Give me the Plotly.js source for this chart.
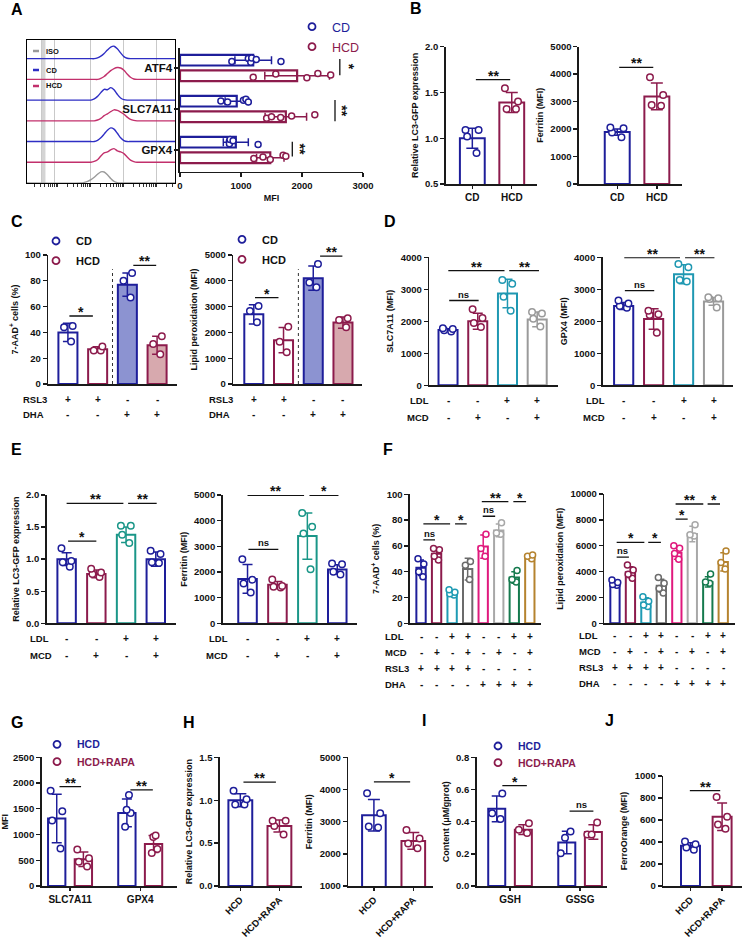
<!DOCTYPE html>
<html><head><meta charset="utf-8">
<script src="https://cdn.plot.ly/plotly-3.0.1.min.js"></script>
<style>html,body{margin:0;padding:0;background:#fff}#chart{width:745px;height:940px}</style>
</head><body><div id="chart"></div>
<script>
// ================= DATA =================
// Panel A – flow cytometry histograms (x = log10 fluorescence, heights relative to row)
const histX       = [1.06,2.7,2.8,2.9,3.0,3.1,3.2,3.3,3.4,3.5,3.6,3.7,3.8,3.9,4.0,4.1,4.2,4.3,4.4,4.5,5.55];
const histISO     = [0,0,0.03,0.08,0.16,0.28,0.42,0.54,0.53,0.40,0.22,0.08,0.02,0,0,0,0,0,0,0,0];
const histGPX4HCD = [0,0,0,0,0,0.04,0.12,0.30,0.45,0.50,0.60,0.66,0.55,0.50,0.42,0.25,0.10,0.03,0,0,0];
const histGPX4CD  = [0,0,0,0,0,0,0.06,0.18,0.36,0.55,0.66,0.60,0.40,0.18,0.05,0,0,0,0,0,0];
const histSLCHCD  = [0,0,0,0,0,0,0.04,0.12,0.25,0.34,0.44,0.53,0.50,0.42,0.32,0.18,0.07,0.02,0,0,0];
const histSLCCD   = [0,0,0,0,0,0.06,0.18,0.36,0.52,0.50,0.60,0.50,0.28,0.10,0.02,0,0,0,0,0,0];
const histATF4HCD = [0,0,0,0,0,0,0,0.05,0.14,0.28,0.42,0.52,0.57,0.55,0.44,0.26,0.10,0.02,0,0,0];
const histATF4CD  = [0,0,0,0,0,0,0.04,0.12,0.25,0.42,0.56,0.60,0.48,0.28,0.10,0.02,0,0,0,0,0,0];
const histLabels  = ['ISO','CD','HCD'];

// Panel A – MFI bars
const aGenes   = ['ATF4','SLC7A11','GPX4'];
const aCDMean  = [1200, 930, 915];
const aCDSD    = [300, 190, 205];
const aCDPts   = [[850,1120,1160,1175,1250,1655],[670,780,1040,1080,1120],[810,820,810,870,1280]];
const aHCDMean = [1920, 1735, 1480];
const aHCDSD   = [530, 340, 225];
const aHCDPts  = [[1200,1570,2080,2260,2470],[1420,1500,1650,1830,2210],[1210,1360,1480,1690,1735]];

// Panel B
const bGroups  = ['CD','HCD'];
const bLC3Mean = [1.0, 1.39];
const bLC3SD   = [0.11, 0.11];
const bLC3Pts  = [[1.09,1.09,1.02,0.84],[1.545,1.40,1.32,1.32]];
const bFerMean = [1890, 3190];
const bFerSD   = [115, 490];
const bFerPts  = [[2060,2030,1700,1880],[3890,3240,2850,2880]];

// Panel C
const cGroups  = ['CD RSL3','HCD RSL3','CD DHA','HCD DHA'];
const cRSL3    = ['+','+','-','-'];
const cDHA     = ['-','-','+','+'];
const c7Mean   = [40, 27, 77, 30];
const c7SD     = [7, 1.8, 9, 7];
const c7Pts    = [[45,44,33],[29,26,26],[86,80,67],[37,31,23]];
const cLipMean = [2700, 1700, 4100, 2380];
const cLipSD   = [370, 490, 470, 220];
const cLipPts  = [[3020,2830,2390],[2220,1640,1230],[4650,3750,3930],[2550,2480,2200]];

// Panel D
const dGroups  = ['Ctrl','MCD','LDL','LDL+MCD'];
const dLDL     = ['-','-','+','+'];
const dMCD     = ['-','+','-','+'];
const dSLCMean = [1730, 2000, 2870, 2060];
const dSLCSD   = [40, 250, 445, 230];
const dSLCPts  = [[1680,1720,1760,1780],[2100,2380,1820,1950],[3290,3170,2770,2330],[2240,2290,2080,1840]];
const dGPXMean = [2480, 2070, 3470, 2620];
const dGPXSD   = [110, 320, 300, 120];
const dGPXPts  = [[2650,2560,2480,2420],[2330,2220,2200,1640],[3790,3690,3240,3290],[2750,2720,2700,2430]];

// Panel E
const eGroups  = ['Ctrl','MCD','LDL','LDL+MCD'];
const eLDL     = ['-','-','+','+'];
const eMCD     = ['-','+','-','+'];
const eLC3Mean = [1.0, 0.77, 1.38, 1.0];
const eLC3SD   = [0.10, 0.06, 0.12, 0.11];
const eLC3Pts  = [[1.17,0.97,0.95,0.88],[0.85,0.79,0.77,0.72],[1.52,1.52,1.38,1.25],[1.13,1.08,0.95,0.94]];
const eFerMean = [1730, 1500, 3400, 2100];
const eFerSD   = [560, 130, 900, 180];
const eFerPts  = [[2500,1700,1550,1200],[1710,1450,1420,1400],[4300,3760,3500,2110],[2330,2300,2010,1900]];

// Panel F
const fGroups  = ['1','2','3','4','5','6','7','8'];
const fLDL     = ['-','-','+','+','-','-','+','+'];
const fMCD     = ['-','+','-','+','-','+','-','+'];
const fRSL3    = ['+','+','+','+','-','-','-','-'];
const fDHA     = ['-','-','-','-','+','+','+','+'];
const f7Mean   = [43, 54, 23.8, 42, 59.5, 72, 35.5, 51.5];
const f7SD     = [6, 4, 1.5, 8.5, 9, 5, 4.5, 1.5];
const f7Pts    = [[50,46,40,36],[58,57,52,49],[26,24,23,22],[48,45,34],[69,58,52],[78,70,69],[41,34,32],[53,52,50]];
const fLipMean = [3050, 3950, 1600, 2900, 5450, 6900, 3200, 4750];
const fLipSD   = [220, 430, 380, 500, 500, 600, 400, 700];
const fLipPts  = [[3350,3150,3000,2950],[4500,4130,3800,3480],[2050,1700,1420,1300],[3550,3100,2700,2350],[5990,5810,5400,4960],[7620,6850,6750],[3820,3200,3100],[5600,4700,4190]];

// Panel G
const gGenes    = ['SLC7A11','GPX4'];
const gHCDMean  = [1310, 1420];
const gHCDSD    = [470, 270];
const gHCDPts   = [[1850,1450,1270,730],[1770,1480,1420,1150]];
const gRAPAMean = [520, 815];
const gRAPASD   = [140, 165];
const gRAPAPts  = [[710,540,470,380],[980,950,720,640]];

// Panel H
const hGroups  = ['HCD','HCD+RAPA'];
const hLC3Mean = [1.0, 0.70];
const hLC3SD   = [0.075, 0.07];
const hLC3Pts  = [[1.11,1.01,0.95,0.95],[0.76,0.76,0.70,0.60]];
const hFerMean = [3200, 2400];
const hFerSD   = [490, 260];
const hFerPts  = [[3880,3260,2820,2850],[2740,2480,2320,2170]];

// Panel I
const iTypes    = ['GSH','GSSG'];
const iHCDMean  = [0.48, 0.27];
const iHCDSD    = [0.08, 0.07];
const iHCDPts   = [[0.575,0.452,0.417],[0.338,0.30,0.203]];
const iRAPAMean = [0.35, 0.335];
const iRAPASD   = [0.03, 0.045];
const iRAPAPts  = [[0.39,0.35,0.33],[0.394,0.32,0.32]];

// Panel J
const jGroups = ['HCD','HCD+RAPA'];
const jMean   = [365, 630];
const jSD     = [28, 125];
const jPts    = [[405,380,350,330],[810,630,560,520]];

// ================= STYLE / HELPERS =================
const W = 745, H = 940;
const NAVY = '#1E1E9A', MAROON = '#8C1B4C', AX = '#1a1a1a', NOFILL = 'rgba(0,0,0,0)';
const TEAL = '#1F98B2', GRAYD = '#9A9A9A', GREENE = '#1A9688';
const FCOL = [NAVY, MAROON, '#1E9BB4', '#6B6B6B', '#E0197D', '#A8A8A8', '#157A4E', '#B5832F'];
const FONT = '"Liberation Sans", Arial, Helvetica, sans-serif';
const f = (size, weight, color) => ({family: FONT, size: size, weight: weight || 'bold', color: color || '#111'});
const px = v => v / W, py = v => 1 - v / H;
const xn = n => n === 1 ? 'x' : 'x' + n, yn = n => n === 1 ? 'y' : 'y' + n;
const xk = n => n === 1 ? 'xaxis' : 'xaxis' + n, yk = n => n === 1 ? 'yaxis' : 'yaxis' + n;

const traces = [], shapes = [], annotations = [];
const layout = {
  width: W, height: H, margin: {l: 0, r: 0, t: 0, b: 0},
  paper_bgcolor: '#fff', plot_bgcolor: NOFILL, hovermode: false,
  barmode: 'group', bargap: 0.24, bargroupgap: 0.325,
  boxmode: 'group', boxgap: 0.24, boxgroupgap: 0.325,
  font: f(9)
};

function axes(n, xl, xr, yt, yb, xrange, yrange, ycfg, xcfg) {
  layout[xk(n)] = Object.assign({domain: [px(xl), px(xr)], range: xrange, anchor: yn(n), type: 'category',
    showline: true, linecolor: AX, linewidth: 1.6, ticks: '', showticklabels: false, showgrid: false,
    zeroline: false, fixedrange: true, tickfont: f(9.5), ticklen: 3, tickwidth: 1.4, tickcolor: AX}, xcfg || {});
  layout[yk(n)] = Object.assign({domain: [py(yb), py(yt)], range: yrange, anchor: xn(n),
    showline: true, linecolor: AX, linewidth: 1.6, ticks: 'outside', ticklen: 4, tickwidth: 1.4, tickcolor: AX,
    showgrid: false, zeroline: false, fixedrange: true, tickfont: f(9.5), tickformat: 'd'}, ycfg || {});
}
const ytitle = (t, s) => ({text: t, font: f(9), standoff: s == null ? 5 : s});

function addSimple(n, cats, means, sds, pts, colors, fills, o) {
  o = o || {};
  const xa = xn(n), ya = yn(n);
  cats.forEach((c, i) => traces.push({type: 'bar', x: [c], y: [means[i]], xaxis: xa, yaxis: ya,
    width: o.width || 0.62, offsetgroup: 's' + n, alignmentgroup: 's' + n,
    marker: {color: fills ? fills[i] : NOFILL, line: {color: colors[i], width: o.lw || 2}},
    error_y: {type: 'data', array: [sds[i]], visible: true, color: colors[i], thickness: 1.5, width: o.cap || 4},
    showlegend: false}));
  cats.forEach((c, i) => traces.push({type: 'box', x: pts[i].map(() => c), y: pts[i], xaxis: xa, yaxis: ya,
    boxpoints: 'all', jitter: o.jitter == null ? 0.8 : o.jitter, pointpos: 0,
    offsetgroup: 's' + n, alignmentgroup: 's' + n, fillcolor: NOFILL, line: {width: 0, color: NOFILL},
    marker: {symbol: 'circle', size: o.ms || 6.5, color: '#fff', line: {color: colors[i], width: 1.5}},
    showlegend: false}));
}

function addGrouped(n, cats, series, o) {
  const xa = xn(n), ya = yn(n), hor = o.orientation === 'h';
  series.forEach((s, k) => {
    const bar = {type: 'bar', xaxis: xa, yaxis: ya, width: o.width, offsetgroup: 'g' + n + '_' + k, alignmentgroup: 'g' + n,
      marker: {color: NOFILL, line: {color: s.color, width: o.lw || 2}}, showlegend: false};
    const err = {type: 'data', array: s.sd, visible: true, color: s.color, thickness: 1.5, width: o.cap || 4};
    if (hor) { bar.orientation = 'h'; bar.y = cats; bar.x = s.mean; bar.error_x = err; }
    else { bar.x = cats; bar.y = s.mean; bar.error_y = err; }
    traces.push(bar);
  });
  series.forEach((s, k) => {
    const rep = [], vals = [];
    s.pts.forEach((arr, i) => arr.forEach(v => { rep.push(cats[i]); vals.push(v); }));
    const box = {type: 'box', xaxis: xa, yaxis: ya, boxpoints: 'all', jitter: o.jitter, pointpos: 0,
      offsetgroup: 'g' + n + '_' + k, alignmentgroup: 'g' + n, fillcolor: NOFILL, line: {width: 0, color: NOFILL},
      marker: {symbol: 'circle', size: o.ms || 6.5, color: '#fff', line: {color: s.color, width: 1.5}}, showlegend: false};
    if (hor) { box.orientation = 'h'; box.y = rep; box.x = vals; } else { box.x = rep; box.y = vals; }
    traces.push(box);
  });
}

function sig(n, x0, x1, y, label) {
  shapes.push({type: 'line', xref: xn(n), yref: yn(n), x0: x0, x1: x1, y0: y, y1: y, line: {color: '#111', width: 1.3}});
  const ns = label === 'ns';
  annotations.push({xref: xn(n), yref: yn(n), x: (x0 + x1) / 2, y: y, text: label, showarrow: false,
    xanchor: 'center', yanchor: 'bottom', yshift: ns ? -1 : -6, font: ns ? f(9.5) : f(14)});
}
// vertical significance bracket for the horizontal bar chart (category index + offset)
function vsig(n, x, cat, d0, d1, label, tx) {
  shapes.push({type: 'line', xref: xn(n), yref: yn(n), x0: x, x1: x, y0: cat + d0, y1: cat + d1, line: {color: '#111', width: 1.3}});
  annotations.push({xref: xn(n), yref: yn(n), x: tx, y: cat + (d0 + d1) / 2, text: label, showarrow: false, textangle: 90, font: f(14)});
}
function rows(n, names, signs, ys, labelX, align) {
  names.forEach((nm, r) => {
    annotations.push({xref: 'paper', yref: 'paper', x: px(labelX), y: py(ys[r]), xanchor: align, yanchor: 'middle',
      text: nm, showarrow: false, font: f(9.5)});
    signs[r].forEach((s, i) => annotations.push({xref: xn(n), yref: 'paper', x: i, y: py(ys[r]), xanchor: 'center',
      yanchor: 'middle', text: s, showarrow: false, font: f(10)}));
  });
}
let legCount = 0;
function legendItem(n, name, color, xPx, yPx, font) {
  legCount++;
  const id = legCount === 1 ? 'legend' : 'legend' + legCount;
  layout[id] = {x: px(xPx), y: py(yPx), xanchor: 'left', yanchor: 'middle', bgcolor: NOFILL, borderwidth: 0,
    font: font, itemwidth: 30};
  traces.push({type: 'scatter', x: [null], y: [null], xaxis: xn(n), yaxis: yn(n), mode: 'markers', name: name,
    marker: {symbol: 'circle-open', size: 7, color: color, line: {width: 1.8, color: color}}, legend: id, showlegend: true});
}
const colored = (t, c) => '<span style="color:' + c + '">' + t + '</span>';

// ================= PANEL A =================
// histogram frame
const histGrid = [1.5, 1.9, 3, 4, 5];
const logTicks = [];
for (let d = 1; d <= 5; d++) for (let k = 1; k <= 9; k++) { const v = d + Math.log10(k); if (v > 1.06 && v < 5.55) logTicks.push(v); }
layout.xaxis = {domain: [px(27), px(175)], range: [1.06, 5.55], anchor: 'y', showline: true, mirror: true,
  linecolor: '#000', linewidth: 1, ticks: 'outside', ticklen: 3, tickwidth: 0.8, tickcolor: '#000',
  tickmode: 'array', tickvals: logTicks, showticklabels: false, showgrid: false, zeroline: false, fixedrange: true,
  minor: {tickmode: 'array', tickvals: histGrid, showgrid: true, gridcolor: '#c9c9c9', gridwidth: 1, ticks: ''}};
layout.yaxis = {domain: [py(183), py(40)], range: [0, 6.9], anchor: 'x', showline: true, mirror: true,
  linecolor: '#000', linewidth: 1, ticks: '', showticklabels: false, showgrid: false, zeroline: false, fixedrange: true};
shapes.push({type: 'rect', xref: 'x', yref: 'paper', x0: 1.49, x1: 1.62, y0: py(183), y1: py(40), fillcolor: '#d4d4d4', line: {width: 0}, layer: 'below'});
const HBLUE = '#2E2EC4', HPINK = '#C2306C', HGRAY = '#9a9a9a';
const histRows = [histISO, histGPX4HCD, histGPX4CD, histSLCHCD, histSLCCD, histATF4HCD, histATF4CD];
const histCols = [HGRAY, HPINK, HBLUE, HPINK, HBLUE, HPINK, HBLUE];
histRows.forEach((h, k) => traces.push({type: 'scatter', mode: 'lines', x: histX, y: h.map(v => v + k),
  xaxis: 'x', yaxis: 'y', line: {color: histCols[k], width: 1.4, shape: 'spline', smoothing: 0.7}, showlegend: false}));
[[HGRAY, 51], [HBLUE, 70], [HPINK, 86]].forEach((c, i) => {
  shapes.push({type: 'line', xref: 'paper', yref: 'paper', x0: px(33), x1: px(39), y0: py(c[1]), y1: py(c[1]), line: {color: c[0], width: 2.5}});
  annotations.push({xref: 'paper', yref: 'paper', x: px(44), y: py(c[1]), xanchor: 'left', yanchor: 'middle', text: histLabels[i], showarrow: false, font: f(7.5)});
});

// bars
layout.xaxis2 = {domain: [px(180), px(363)], range: [0, 3000], anchor: 'y2', dtick: 1000, tickformat: 'd',
  showline: true, linecolor: AX, linewidth: 1.6, ticks: 'outside', ticklen: 4, tickwidth: 1.4, tickcolor: AX,
  showgrid: false, zeroline: false, fixedrange: true, tickfont: f(9.5), title: {text: 'MFI', font: f(9), standoff: 5}};
layout.yaxis2 = {domain: [py(171.7), py(48.3)], type: 'category', range: [2.53, -0.48], anchor: 'x2',
  showline: true, linecolor: AX, linewidth: 1.6, ticks: 'outside', ticklen: 4, tickwidth: 1.4, tickcolor: AX,
  showgrid: false, zeroline: false, fixedrange: true, tickfont: f(11.5)};
addGrouped(2, aGenes, [
  {mean: aCDMean, sd: aCDSD, pts: aCDPts, color: NAVY},
  {mean: aHCDMean, sd: aHCDSD, pts: aHCDPts, color: MAROON}], {orientation: 'h', width: 0.26, jitter: 0.5, ms: 6, lw: 2.2});
vsig(2, 2620, 0, -0.22, 0.18, '*', 2760);
vsig(2, 2541, 1, -0.22, 0.3, '**', 2660);
vsig(2, 1841, 2, -0.2, 0.16, '**', 1960);
legendItem(2, colored('CD', NAVY), NAVY, 292, 27, f(12.5, 'normal'));
legendItem(2, colored('HCD', MAROON), MAROON, 292, 47, f(12.5, 'normal'));

// ================= PANEL B =================
axes(3, 445.7, 537, 46.7, 184, [-0.675, 1.64], [0.5, 2.0], {dtick: 0.5, tickformat: '.1f', title: ytitle('Relative LC3-GFP expression')},
  {showticklabels: true, ticks: 'outside', tickfont: f(10)});
addSimple(3, bGroups, bLC3Mean, bLC3SD, bLC3Pts, [NAVY, MAROON], null, {width: 0.63, cap: 6});
sig(3, 0.09, 0.96, 1.64, '**');
axes(4, 579, 682, 46.7, 184, [-0.965, 1.635], [0, 5000], {dtick: 1000, title: ytitle('Ferritin (MFI)')},
  {showticklabels: true, ticks: 'outside', tickfont: f(10)});
addSimple(4, bGroups, bFerMean, bFerSD, bFerPts, [NAVY, MAROON], null, {width: 0.63, cap: 6});
sig(4, 0.05, 0.91, 4250, '**');

// ================= PANEL C =================
axes(5, 48.3, 177, 255, 384, [-0.66, 3.67], [0, 100], {dtick: 20, title: ytitle('7-AAD<sup>+</sup> cells (%)')});
addSimple(5, cGroups, c7Mean, c7SD, c7Pts, [NAVY, MAROON, NAVY, MAROON], [NOFILL, NOFILL, '#8C93D1', '#D7A9AE'], {width: 0.64, cap: 5});
sig(5, 0.05, 0.84, 52.7, '*'); sig(5, 2.2, 2.97, 92, '**');
shapes.push({type: 'line', xref: 'x5', yref: 'y5', x0: 1.5, x1: 1.5, y0: 0, y1: 89, line: {color: '#333', width: 1, dash: 'dot'}});
rows(5, ['RSL3', 'DHA'], [cRSL3, cDHA], [399.3, 414.3], 20.7, 'left');
legendItem(5, 'CD', NAVY, 36, 241, f(11));
legendItem(5, 'HCD', MAROON, 36, 260.7, f(11));

axes(6, 233.3, 361.7, 255, 384, [-0.69, 3.63], [0, 5000], {dtick: 1000, title: ytitle('Lipid peroxidation (MFI)')});
addSimple(6, cGroups, cLipMean, cLipSD, cLipPts, [NAVY, MAROON, NAVY, MAROON], [NOFILL, NOFILL, '#8C93D1', '#D7A9AE'], {width: 0.64, cap: 5});
sig(6, 0.04, 0.83, 3345, '*'); sig(6, 2.23, 2.98, 4960, '**');
shapes.push({type: 'line', xref: 'x6', yref: 'y6', x0: 1.5, x1: 1.5, y0: 0, y1: 4450, line: {color: '#333', width: 1, dash: 'dot'}});
rows(6, ['RSL3', 'DHA'], [cRSL3, cDHA], [399.3, 414.3], 206.7, 'left');
legendItem(6, 'CD', NAVY, 222, 239.3, f(11));
legendItem(6, 'HCD', MAROON, 222, 259.3, f(11));

// ================= PANEL D =================
const dCols = [NAVY, MAROON, TEAL, GRAYD];
axes(7, 429.3, 558.3, 257.3, 385.3, [-0.63, 3.71], [0, 4000], {dtick: 1000, title: ytitle('SLC7A11 (MFI)')});
addSimple(7, dGroups, dSLCMean, dSLCSD, dSLCPts, dCols, null, {width: 0.64, cap: 5});
sig(7, 0.04, 1.03, 2650, 'ns'); sig(7, 0.01, 1.9, 3582, '**'); sig(7, 2.06, 3.06, 3582, '**');
rows(7, ['LDL', 'MCD'], [dLDL, dMCD], [400.7, 417.7], 431, 'right');
axes(8, 602.7, 733, 257.3, 385.3, [-0.7, 3.65], [0, 4000], {dtick: 1000, title: ytitle('GPX4 (MFI)')});
addSimple(8, dGroups, dGPXMean, dGPXSD, dGPXPts, dCols, null, {width: 0.64, cap: 5});
sig(8, 0.04, 1.02, 2960, 'ns'); sig(8, 0.02, 1.88, 3990, '**'); sig(8, 2.05, 3.03, 3990, '**');
rows(8, ['LDL', 'MCD'], [dLDL, dMCD], [400.7, 417.7], 607, 'right');

// ================= PANEL E =================
const eCols = [NAVY, MAROON, GREENE, NAVY];
axes(9, 46.7, 176, 495, 623.3, [-0.67, 3.68], [0, 2], {dtick: 0.5, tickformat: '.1f', title: ytitle('Relative LC3-GFP expression')});
addSimple(9, eGroups, eLC3Mean, eLC3SD, eLC3Pts, eCols, null, {width: 0.62, cap: 5});
sig(9, 0.05, 1.0, 1.28, '*'); sig(9, 0.0, 1.91, 1.87, '**'); sig(9, 2.07, 3.03, 1.87, '**');
rows(9, ['LDL', 'MCD'], [eLDL, eMCD], [638.3, 655], 28.3, 'left');
axes(10, 222.7, 357.3, 495, 623.3, [-0.83, 3.67], [0, 5000], {dtick: 1000, title: ytitle('Ferritin (MFI)')});
addSimple(10, eGroups, eFerMean, eFerSD, eFerPts, eCols, null, {width: 0.62, cap: 5});
sig(10, 0.03, 1.03, 2879, 'ns'); sig(10, 0.0, 1.89, 4990, '**'); sig(10, 2.07, 3.04, 4990, '*');
rows(10, ['LDL', 'MCD'], [eLDL, eMCD], [638.3, 655], 230, 'right');

// ================= PANEL F =================
axes(11, 410, 540.7, 494.3, 623.3, [-0.71, 7.7], [0, 100], {dtick: 20, title: ytitle('7-AAD<sup>+</sup> cells (%)')});
addSimple(11, fGroups, f7Mean, f7SD, f7Pts, FCOL, null, {width: 0.6, cap: 3, ms: 6, jitter: 0.9});
sig(11, 0.15, 0.9, 64.6, 'ns'); sig(11, 0.15, 1.87, 77, '*'); sig(11, 2.19, 2.94, 77, '*');
sig(11, 3.97, 4.77, 83, 'ns'); sig(11, 3.91, 5.62, 94.3, '**'); sig(11, 5.94, 6.76, 94.3, '*');
rows(11, ['LDL', 'MCD', 'RSL3', 'DHA'], [fLDL, fMCD, fRSL3, fDHA], [636.3, 652.7, 668.3, 684], 383.3, 'left');
axes(12, 604.3, 735, 494, 623.3, [-0.69, 7.76], [0, 10000], {dtick: 2000, title: ytitle('Lipid peroxidation (MFI)')});
addSimple(12, fGroups, fLipMean, fLipSD, fLipPts, FCOL, null, {width: 0.6, cap: 3, ms: 6, jitter: 0.9});
sig(12, 0.11, 0.9, 5116, 'ns'); sig(12, 0.11, 1.9, 6253, '*'); sig(12, 2.15, 2.97, 6253, '*');
sig(12, 3.92, 4.7, 8062, '*'); sig(12, 3.92, 5.71, 9225, '**'); sig(12, 5.99, 6.79, 9225, '*');
rows(12, ['LDL', 'MCD', 'RSL3', 'DHA'], [fLDL, fMCD, fRSL3, fDHA], [635.3, 651.7, 667.3, 683], 576.7, 'left');

// ================= PANEL G =================
axes(13, 41.7, 176.7, 757.3, 886, [-0.404, 1.52], [0, 2500], {dtick: 500, title: ytitle('MFI')},
  {showticklabels: true, ticks: 'outside', tickfont: f(10)});
addGrouped(13, gGenes, [
  {mean: gHCDMean, sd: gHCDSD, pts: gHCDPts, color: NAVY},
  {mean: gRAPAMean, sd: gRAPASD, pts: gRAPAPts, color: MAROON}], {width: 0.247, jitter: 0.8, cap: 5});
sig(13, -0.15, 0.157, 1932, '**'); sig(13, 0.86, 1.18, 1868, '**');
legendItem(13, colored('HCD', NAVY), NAVY, 37, 744.3, f(10.5));
legendItem(13, colored('HCD+RAPA', MAROON), MAROON, 37, 761.7, f(10.5));

// ================= PANEL H =================
axes(14, 220, 301.7, 757.3, 886, [-0.52, 1.57], [0, 1.5], {dtick: 0.5, tickformat: '.1f', title: ytitle('Relative LC3-GFP expression')},
  {showticklabels: true, ticks: 'outside', tickangle: -45, tickfont: f(9.5)});
addSimple(14, hGroups, hLC3Mean, hLC3SD, hLC3Pts, [NAVY, MAROON], null, {width: 0.61, cap: 6});
sig(14, 0.08, 0.91, 1.21, '**');
axes(15, 348.3, 433, 757.3, 886, [-0.65, 1.5], [1000, 5000], {dtick: 1000, title: ytitle('Ferritin (MFI)')},
  {showticklabels: true, ticks: 'outside', tickangle: -45, tickfont: f(9.5)});
addSimple(15, hGroups, hFerMean, hFerSD, hFerPts, [NAVY, MAROON], null, {width: 0.6, cap: 6});
sig(15, 0.0, 0.92, 4234, '*');

// ================= PANEL I =================
axes(16, 476.7, 606.7, 757.3, 886, [-0.476, 1.38], [0, 0.8], {dtick: 0.2, tickformat: '.1f', title: ytitle('Content (μM/gprot)')},
  {showticklabels: true, ticks: 'outside', tickfont: f(10)});
addGrouped(16, iTypes, [
  {mean: iHCDMean, sd: iHCDSD, pts: iHCDPts, color: NAVY},
  {mean: iRAPAMean, sd: iRAPASD, pts: iRAPAPts, color: MAROON}], {width: 0.243, jitter: 0.8, cap: 5});
sig(16, -0.11, 0.24, 0.624, '*'); sig(16, 0.85, 1.19, 0.466, 'ns');
legendItem(16, colored('HCD', NAVY), NAVY, 478, 746, f(10.5));
legendItem(16, colored('HCD+RAPA', MAROON), MAROON, 478, 762.7, f(10.5));

// ================= PANEL J =================
axes(17, 663.3, 741.7, 776, 886, [-0.86, 1.62], [0, 1000], {dtick: 200, title: ytitle('FerroOrange (MFI)')},
  {showticklabels: true, ticks: 'outside', tickangle: -45, tickfont: f(9.5)});
addSimple(17, jGroups, jMean, jSD, jPts, [NAVY, MAROON], null, {width: 0.6, cap: 5});
sig(17, -0.02, 0.94, 867, '**');

// ================= PANEL LETTERS =================
[['A', 17, 9], ['B', 416, 8], ['C', 17, 221], ['D', 390, 221], ['E', 16, 449], ['F', 388, 449],
 ['G', 17, 722], ['H', 189, 722], ['I', 424, 720], ['J', 609, 720]].forEach(l =>
  annotations.push({xref: 'paper', yref: 'paper', x: px(l[1]), y: py(l[2]), xanchor: 'center', yanchor: 'middle',
    text: l[0], showarrow: false, font: f(16, 'bold', '#000')}));

layout.shapes = shapes;
layout.annotations = annotations;
Plotly.newPlot('chart', traces, layout, {displayModeBar: false, staticPlot: true});
</script>
</body></html>
